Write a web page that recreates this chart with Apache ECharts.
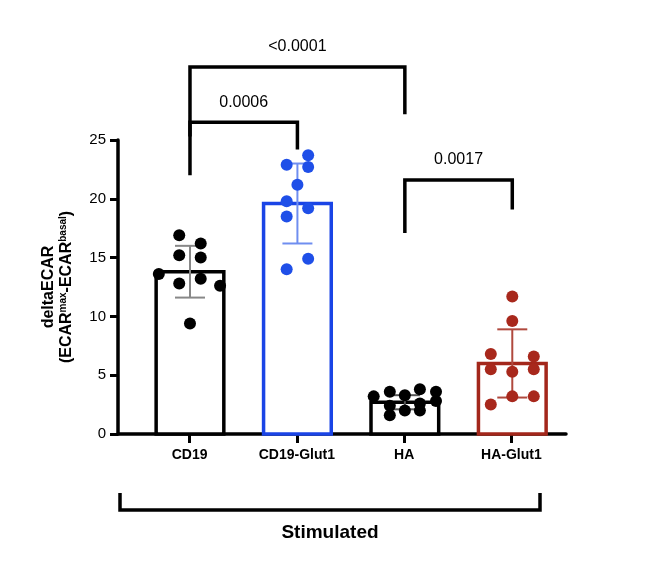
<!DOCTYPE html><html><head><meta charset="utf-8"><script src="https://cdn.jsdelivr.net/npm/echarts@6/dist/echarts.min.js"></script></head><body style="margin:0"><div id="c" style="width:652px;height:576px"></div><script>
const categories=['CD19','CD19-Glut1','HA','HA-Glut1'];
const means=[13.8,19.6,2.7,6.0];
const sds=[2.2,3.4,0.6,2.9];
const pts=[
 [[-0.1,16.9],[0.1,16.2],[-0.1,15.2],[0.1,15.0],[-0.29,13.6],[-0.1,12.8],[0.1,13.2],[0.28,12.6],[0,9.4]],
 [[0.1,23.7],[-0.1,22.9],[0.1,22.7],[0,21.2],[-0.1,19.8],[0.1,19.2],[-0.1,18.5],[0.1,14.9],[-0.1,14.0]],
 [[-0.29,3.2],[-0.14,3.6],[0,3.3],[0.14,3.8],[0.29,3.6],[-0.14,2.4],[0,2.0],[0.29,2.8],[0.14,2.0],[-0.14,1.6],[0.14,2.6]],
 [[0,11.7],[0,9.6],[-0.2,6.8],[0.2,6.6],[-0.2,5.5],[0,5.3],[0.2,5.5],[0,3.2],[0.2,3.2],[-0.2,2.5]]
];
const ptColor=['#000','#1f4fe8','#000','#a8281c'];
const barColor=['#000','#1a44e6','#000','#a3271b'];
const errColor=['#888','#6f8ef0','#555','#b0493e'];
const brackets=[[0,1,26.5,22.0,24.2,'0.0006'],[0,2,31.2,25.3,27.2,'<0.0001'],[2,3,21.6,17.1,19.1,'0.0017']];
const chart=echarts.init(document.getElementById('c'));
const series=[];
series.push({type:'custom',xAxisIndex:0,yAxisIndex:0,data:means.map((m,i)=>[i,m]),renderItem(p,api){
 const i=api.value(0),a=api.coord([i-0.315,api.value(1)]),b=api.coord([i+0.315,0]);
 return {type:'rect',shape:{x:a[0],y:a[1],width:b[0]-a[0],height:b[1]-a[1]},style:{fill:'#fff',stroke:barColor[i],lineWidth:3.5}};
}});
series.push({type:'custom',xAxisIndex:0,yAxisIndex:0,z:5,data:means.map((m,i)=>[i,m,sds[i]]),renderItem(p,api){
 const i=api.value(0),m=api.value(1),s=api.value(2);
 const t=api.coord([i,m+s]),bt=api.coord([i,m-s]),w=15,st={stroke:errColor[i],lineWidth:2};
 return {type:'group',children:[
  {type:'line',shape:{x1:t[0],y1:t[1],x2:bt[0],y2:bt[1]},style:st},
  {type:'line',shape:{x1:t[0]-w,y1:t[1],x2:t[0]+w,y2:t[1]},style:st},
  {type:'line',shape:{x1:bt[0]-w,y1:bt[1],x2:bt[0]+w,y2:bt[1]},style:st}]};
}});
pts.forEach((g,i)=>series.push({type:'scatter',xAxisIndex:0,yAxisIndex:0,z:6,symbolSize:12,itemStyle:{color:ptColor[i],opacity:1},data:g.map(d=>[i+d[0],d[1]])}));
series.push({type:'custom',xAxisIndex:0,yAxisIndex:0,clip:false,data:brackets,renderItem(p,api){
 const a=api.value(0),b=api.value(1),y=api.value(2),ya=api.value(3),yb=api.value(4);
 const p1=api.coord([a,ya]),p2=api.coord([a,y]),p3=api.coord([b,y]),p4=api.coord([b,yb]);
 return {type:'group',children:[
  {type:'polyline',shape:{points:[p1,p2,p3,p4]},style:{stroke:'#000',lineWidth:3.5,fill:null}},
  {type:'text',x:(p2[0]+p3[0])/2,y:p2[1]-12,style:{text:brackets[p.dataIndex][5],fill:'#000',font:'16px Arial, Liberation Sans',align:'center',verticalAlign:'bottom'}}]};
}});
chart.setOption({animation:false,
 grid:[{left:118,top:140,width:448,bottom:142},{left:136,top:140,width:429,bottom:142}],
 xAxis:[{type:'value',gridIndex:0,min:-0.67,max:3.5,axisLine:{show:true,onZero:false,lineStyle:{color:'#000',width:3.5}},axisTick:{show:false},axisLabel:{show:false},splitLine:{show:false}},
  {type:'category',gridIndex:1,data:categories,axisLine:{show:false},axisTick:{show:true,alignWithLabel:true,length:9,lineStyle:{color:'#000',width:3}},axisLabel:{color:'#000',fontWeight:'bold',fontSize:14,margin:14,fontFamily:'Arial, Liberation Sans'}}],
 yAxis:[{type:'value',gridIndex:0,min:0,max:25,interval:5,axisLine:{show:true,onZero:false,lineStyle:{color:'#000',width:3.5}},axisTick:{show:true,length:8,lineStyle:{width:3}},axisLabel:{color:'#000',fontSize:15,margin:12,fontFamily:'Arial, Liberation Sans'},splitLine:{show:false},
  name:'{b|deltaECAR}\n{b|(ECAR}{s|max}{b|-ECAR}{s|basal}{b|)}',nameLocation:'middle',nameGap:42,nameRotate:90,nameTextStyle:{rich:{b:{fontSize:16,fontWeight:'bold',color:'#000',fontFamily:'Arial, Liberation Sans',lineHeight:18},s:{fontSize:10,fontWeight:'bold',color:'#000',verticalAlign:'top',lineHeight:18,padding:[0,0,8,0]}}}},
  {type:'value',gridIndex:1,show:false}],
 graphic:[{type:'polyline',shape:{points:[[120,493],[120,510],[540,510],[540,493]]},style:{stroke:'#000',lineWidth:3.5,fill:null}},
  {type:'text',x:330,y:533,style:{text:'Stimulated',font:'bold 19px Arial, Liberation Sans',fill:'#000',align:'center',verticalAlign:'middle'}}],
 series});
</script></body></html>
